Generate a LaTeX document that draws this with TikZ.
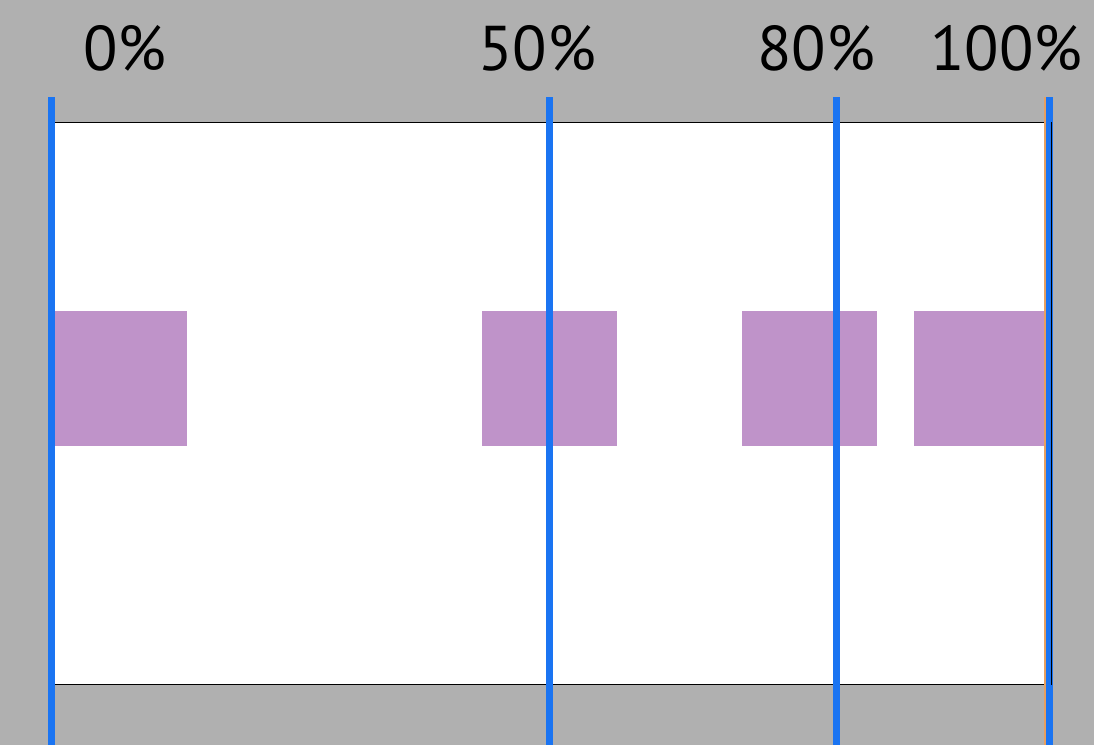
\documentclass[tikz,border=0pt]{standalone}
\usepackage{fontspec}
\setmainfont{PT Sans}
\usetikzlibrary{positioning}
\definecolor{bggray}{HTML}{B0B0B0}
\definecolor{guideblue}{HTML}{1A74F2}
\definecolor{boxpurple}{HTML}{BF93C9}
\definecolor{edgeorange}{HTML}{E8A060}

\begin{document}
\begin{tikzpicture}[
    x=0.02cm, y=-0.02cm,
    pctlbl/.style={anchor=base west, inner sep=0pt, font=\fontsize{36}{36}\selectfont},
    guide/.style={draw=guideblue, line width=0.14cm},
    stopbox/.style={fill=boxpurple, draw=none}
  ]
  % canvas
  \fill[bggray] (0,0) rectangle (1094,745);
  \useasboundingbox (0,0) rectangle (1094,745);
  \node[draw=black, fill=white, line width=0.6pt, inner sep=0pt,
        minimum width=0.02cm*999, minimum height=0.02cm*562, anchor=north west]
    (frame) at (51,122) {};

  % stops
  \fill[stopbox] (55,311) rectangle (187,446);
  \fill[stopbox] (482,311) rectangle (617,446);
  \fill[stopbox] (742,311) rectangle (877,446);
  \fill[stopbox] (914,311) rectangle (1045,446);

  % guides
  \foreach \gx/\gname in {51/g0, 549/g50, 836/g80, 1049.5/g100} {
    \coordinate (\gname top) at (\gx,97);
    \coordinate (\gname bot) at (\gx,745);
    \draw[guide] (\gname top) -- (\gname bot);
  }
  \draw[black, line width=0.6pt] (frame.north east) -- (frame.south east);

  % right edge marker
  \draw[edgeorange, line width=0.7pt] (1045,97) -- (1045,745);

  % labels
  \node[pctlbl] (l0) at (83,70) {0\%};
  \node[pctlbl] (l50) at (478,70) {50\%};
  \node[pctlbl] (l80) at (757,70) {80\%};
  \node[pctlbl] (l100) at (930,70) {100\%};
\end{tikzpicture}
\end{document}
